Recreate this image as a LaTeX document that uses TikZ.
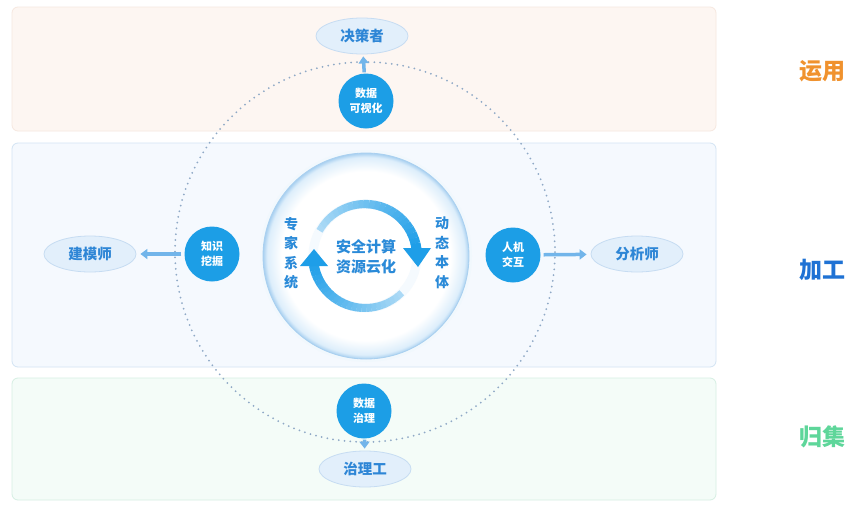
\documentclass[tikz,border=0pt]{standalone}
\usepackage{fontspec}
\setmainfont{Noto Sans CJK SC}
\usetikzlibrary{arrows.meta,shapes.geometric}
\definecolor{topfill}{HTML}{FDF6F2}
\definecolor{topdraw}{HTML}{F6E8E0}
\definecolor{midfill}{HTML}{F5F9FE}
\definecolor{middraw}{HTML}{D3E4F4}
\definecolor{botfill}{HTML}{F4FCF8}
\definecolor{botdraw}{HTML}{D6EFE3}
\definecolor{dotcol}{HTML}{8FA9C6}
\definecolor{sblue}{HTML}{1C9EE6}
\definecolor{ellfill}{HTML}{E2EFFB}
\definecolor{elldraw}{HTML}{C6DCF2}
\definecolor{elltext}{HTML}{2E86D6}
\definecolor{ctext}{HTML}{2A8AD8}
\definecolor{arrcol}{HTML}{72B5EA}
\definecolor{arrdark}{HTML}{1E9EE8}
\definecolor{arrlight}{HTML}{C4E4F8}
\definecolor{ringc}{HTML}{A9D0F0}
\definecolor{ringm}{HTML}{DDEEFB}
\definecolor{lorange}{HTML}{F0922E}
\definecolor{lblue}{HTML}{1F72D4}
\definecolor{lgreen}{HTML}{5ED69A}
\pgfdeclareradialshading{glow}{\pgfpoint{0bp}{0bp}}{color(0bp)=(white); color(20.5bp)=(white); color(24bp)=(ringm); color(25bp)=(ringc); color(50bp)=(ringc)}
\tikzset{
  band/.style={rounded corners=6, line width=0.8pt},
  sdot/.style={circle, fill=sblue, minimum size=55, inner sep=0pt, text=white, align=center, font=\bfseries\fontsize{11}{15}\selectfont},
  ell/.style={ellipse, fill=ellfill, draw=elldraw, line width=0.8pt, minimum width=92, minimum height=36, inner sep=0pt, text=elltext, font=\bfseries\fontsize{14.5}{16}\selectfont},
  conn/.style={draw=arrcol, line width=3.5pt, -{Triangle[length=7pt,width=10pt]}},
  dotring/.style={draw=dotcol, line width=2pt, line cap=round, dash pattern=on 0pt off 5.8pt},
  sidelabel/.style={font=\bfseries\fontsize{23}{25}\selectfont},
  ctr/.style={text=ctext, align=center, font=\bfseries\fontsize{15}{20}\selectfont},
  vert/.style={text=ctext, align=center, font=\bfseries\fontsize{14}{19.5}\selectfont}
}
\begin{document}
\begin{tikzpicture}[x=1pt,y=-1pt]
\useasboundingbox (0,0) rectangle (852,504);
\fill[white] (0,0) rectangle (852,504);
% bands
\draw[band, fill=topfill, draw=topdraw] (12,7) rectangle (716,131);
\draw[band, fill=midfill, draw=middraw] (12,143) rectangle (716,367);
\draw[band, fill=botfill, draw=botdraw] (12,378) rectangle (716,500);
% dotted ring
\draw[dotring] (365,252) circle[radius=190];
% central circle
\fill[ringm!40] (366,256) circle[radius=106];
\shade[shading=glow] (366,256) circle[radius=103];
\draw[ringc, line width=0.8pt] (366,256) circle[radius=103];
% faint inner ring
\draw[white!70!ringm, line width=9pt] (365,256) circle[radius=52];
% rotating arrows: top arc (tail upper-left, head right pointing down)
\foreach \i in {0,...,23}{
  \pgfmathsetmacro\a{-151+\i*5.95}
  \pgfmathsetmacro\m{15+\i*85/23}
  \pgfmathsetmacro\w{7+\i*3/23}
  \draw[line width=\w pt, color=arrdark!\m!arrlight] ([shift={(\a:52)}]365,256) arc[start angle=\a, end angle=\a+6.3, radius=52];
}
\fill[arrdark] (403,248) -- (431,248) -- (418,267) -- cycle;
% bottom arc (tail lower-right, head left pointing up)
\foreach \i in {0,...,23}{
  \pgfmathsetmacro\a{45+\i*5.4}
  \pgfmathsetmacro\m{15+\i*85/23}
  \pgfmathsetmacro\w{7+\i*3/23}
  \draw[line width=\w pt, color=arrdark!\m!arrlight] ([shift={(\a:52)}]365,256) arc[start angle=\a, end angle=\a+5.8, radius=52];
}
\fill[arrdark] (300,266) -- (328,266) -- (314,249) -- cycle;
% center texts
\node[ctr] (core) at (366,257) {安全计算\\资源云化};
\node[vert] (zjxt) at (291,253) {专\\家\\系\\统};
\node[vert] (dtbt) at (442,253) {动\\态\\本\\体};
% satellite circles
\node[sdot] (sjkh) at (366,101) {数据\\可视化};
\node[sdot] (zswj) at (212,254) {知识\\挖掘};
\node[sdot] (rjjh) at (513,255) {人机\\交互};
\node[sdot] (sjzl) at (364,411) {数据\\治理};
% role ellipses
\node[ell] (jcz) at (362,36) {决策者};
\node[ell] (jms) at (90,254) {建模师};
\node[ell] (fxs) at (637,254) {分析师};
\node[ell] (zlg) at (365,469) {治理工};
% connectors
\draw[conn, shorten <=1pt, shorten >=2pt] (sjkh) -- (jcz);
\draw[conn, shorten <=3pt, shorten >=4pt] (zswj) -- (jms);
\draw[conn, shorten <=3pt, shorten >=4pt] (rjjh) -- (fxs);
\draw[conn, shorten <=1pt, shorten >=2pt] (sjzl) -- (zlg);
% side labels
\node[sidelabel, text=lorange] (yy) at (822,71) {运用};
\node[sidelabel, text=lblue] (jg) at (822,270) {加工};
\node[sidelabel, text=lgreen] (gj) at (822,437) {归集};
\end{tikzpicture}
\end{document}
